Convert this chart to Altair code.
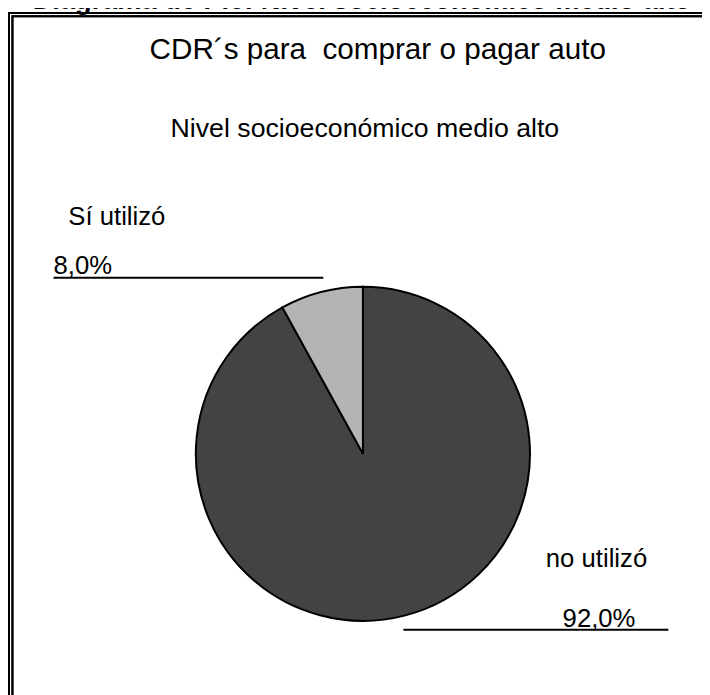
import altair as alt
import pandas as pd

# ---- data ----
categories = ["no utilizó", "Sí utilizó"]
percentages = [92.0, 8.0]
pct_labels = ["92,0%", "8,0%"]
slice_order = [0, 1]
slice_colors = ["#434343", "#b4b4b4"]

page_title = "Diagrama de Pie: Nivel socioeconómico medio alto"
chart_title = "CDR´s para \u00a0comprar o pagar auto"
chart_subtitle = "Nivel socioeconómico medio alto"

df = pd.DataFrame({
    "categoria": categories,
    "porcentaje": percentages,
    "etiqueta": pct_labels,
    "orden": slice_order,
})

FONT = "Liberation Sans"
W, H = 702, 687
CX, CY, R = 359, 447, 169

base = alt.Chart(df)

frame_outer = base.mark_rect(fill=None, stroke="black", strokeWidth=2).encode(
    x=alt.value(1), x2=alt.value(760), y=alt.value(1), y2=alt.value(760)
)
frame_inner = base.mark_rect(fill=None, stroke="black", strokeWidth=2).encode(
    x=alt.value(4.5), x2=alt.value(760), y=alt.value(4.5), y2=alt.value(760)
)

pie = base.mark_arc(outerRadius=R, stroke="black", strokeWidth=2).encode(
    theta=alt.Theta("porcentaje:Q", stack=True),
    order=alt.Order("orden:Q"),
    color=alt.Color("categoria:N", scale=alt.Scale(domain=categories, range=slice_colors), legend=None),
    x=alt.value(CX),
    y=alt.value(CY),
)

def text_layer(txt, x, y, size, align="center", bold=False):
    return alt.Chart(df.head(1)).mark_text(
        font=FONT, fontSize=size, align=align, baseline="alphabetic",
        fontWeight="bold" if bold else "normal", color="black"
    ).encode(x=alt.value(x), y=alt.value(y), text=alt.value(txt))

top_title = text_layer(page_title, 358, -3, 27.5, bold=True)
title = text_layer(chart_title, 374, 48, 30)
subtitle = text_layer(chart_subtitle, 361, 127, 27)

si = base.transform_filter(alt.datum.categoria == "Sí utilizó")
no = base.transform_filter(alt.datum.categoria == "no utilizó")

si_name = si.mark_text(font=FONT, fontSize=26, align="left", baseline="alphabetic").encode(
    x=alt.value(61), y=alt.value(216), text="categoria:N")
si_pct = si.mark_text(font=FONT, fontSize=26, align="left", baseline="alphabetic").encode(
    x=alt.value(46), y=alt.value(265), text="etiqueta:N")
si_line = si.mark_rule(color="black", strokeWidth=2).encode(
    x=alt.value(46), x2=alt.value(319), y=alt.value(269))

no_name = no.mark_text(font=FONT, fontSize=26, align="left", baseline="alphabetic").encode(
    x=alt.value(544), y=alt.value(561), text="categoria:N")
no_pct = no.mark_text(font=FONT, fontSize=26, align="left", baseline="alphabetic").encode(
    x=alt.value(561), y=alt.value(622), text="etiqueta:N")
no_line = no.mark_rule(color="black", strokeWidth=2).encode(
    x=alt.value(400), x2=alt.value(668), y=alt.value(625))

chart = alt.layer(
    frame_outer, frame_inner, pie, si_line, no_line,
    top_title, title, subtitle, si_name, si_pct, no_name, no_pct
).properties(
    width=W, height=H, autosize="none", padding=0, background="white"
).configure_view(stroke=None)

chart.save("out.html", embed_options={"renderer": "svg", "actions": False})
